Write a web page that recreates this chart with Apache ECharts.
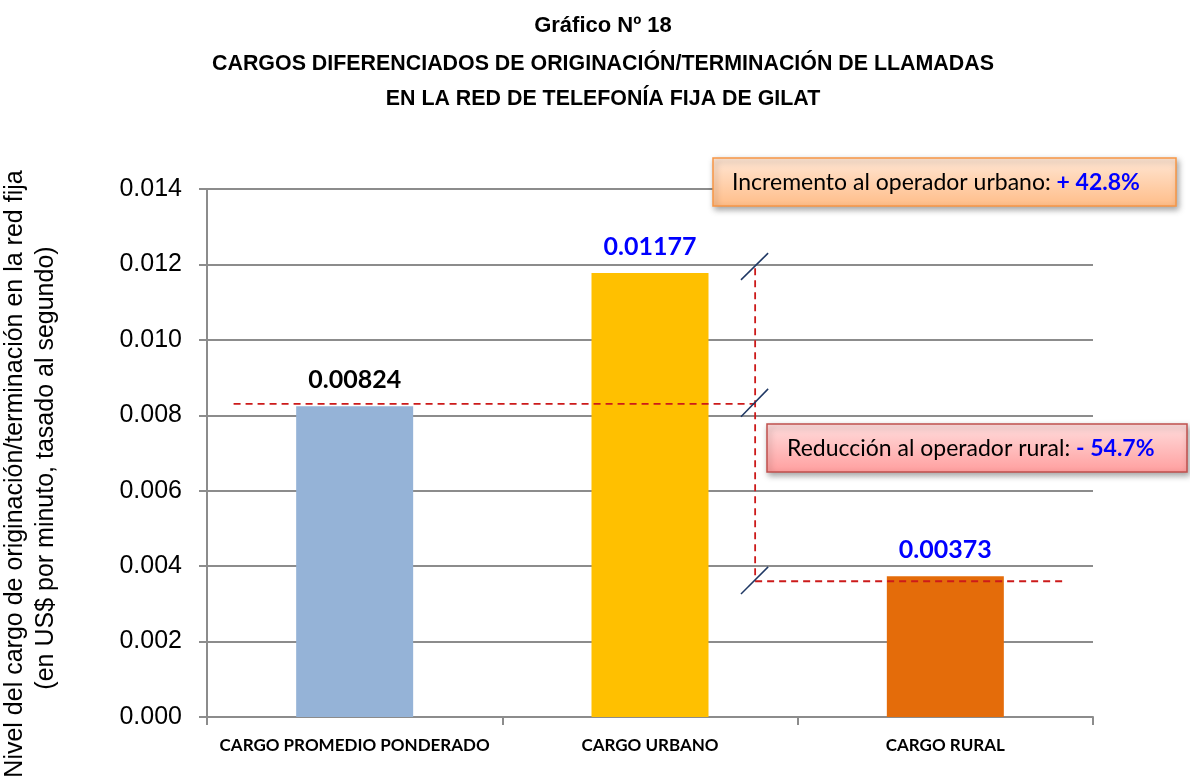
<!DOCTYPE html>
<html>
<head>
<meta charset="utf-8">
<script src="https://cdn.jsdelivr.net/npm/echarts@6/dist/echarts.min.js"></script>
<style>
    html, body { margin: 0; padding: 0; background: #fff; }
    #chart-cargos { width: 1190px; height: 778px; }
</style>
</head>
<body>
<div id="chart-cargos"></div>
<script>
var categories = ['CARGO PROMEDIO PONDERADO', 'CARGO URBANO', 'CARGO RURAL'];
var values = [0.00824, 0.01177, 0.00373];
var valueLabels = ['0.00824', '0.01177', '0.00373'];
var barColors = ['#95B3D7', '#FFC000', '#E46C0A'];
var labelColors = ['#000000', '#0000FF', '#0000FF'];

// y axis: 0 .. 0.014 step 0.002
var yMin = 0, yMax = 0.014, yStep = 0.002;

// reference lines (x in category units 0..3 on a hidden value axis, y in data units)
var avgLine = [[0.09, 0.0083], [1.856, 0.0083]];
var linkLine = [[1.856, 0.0119], [1.856, 0.0036]];
var ruralLine = [[1.856, 0.0036], [2.905, 0.0036]];
var breakMarks = [
    [[1.808, 0.01159], [1.90, 0.0123]],
    [[1.808, 0.00796], [1.90, 0.0087]],
    [[1.808, 0.00326], [1.90, 0.00398]]
];

var annotUp = ['Incremento al operador urbano: ', '+ 42.8%'];
var annotDown = ['Reducción al operador rural: ', '- 54.7%'];

function dashedSeries(data) {
    return {
        type: 'line', xAxisIndex: 1, data: data, symbol: 'none', silent: true, z: 5,
        lineStyle: { color: '#CC1A1A', width: 1.8, type: [7, 5] }
    };
}

function slashSeries(data) {
    return {
        type: 'line', xAxisIndex: 1, data: data, symbol: 'none', silent: true, z: 6,
        lineStyle: { color: '#1F3864', width: 1.5 }
    };
}

function annotText(parts) {
    return {
        text: '{a|' + parts[0] + '}{b|' + parts[1] + '}',
        textVerticalAlign: 'middle',
        rich: {
            a: { fontFamily: 'Lato', fontSize: 23, fill: '#000' },
            b: { fontFamily: 'Lato', fontSize: 23, fontWeight: 'bold', fill: '#0000FF' }
        }
    };
}

var chartDom = document.getElementById('chart-cargos');
var myChart = echarts.init(chartDom);
var option;

var series = [{
    type: 'bar',
    barWidth: 117,
    data: values.map((v, i) => ({
        value: v,
        itemStyle: { color: barColors[i] },
        label: { color: labelColors[i] }
    })),
    label: {
        show: true,
        position: 'top',
        distance: 14,
        fontFamily: 'Lato',
        fontWeight: 'bold',
        fontSize: 25,
        formatter: p => valueLabels[p.dataIndex]
    }
}];
series.push(dashedSeries(avgLine));
series.push(dashedSeries(linkLine));
series.push(dashedSeries(ruralLine));
breakMarks.forEach(m => series.push(slashSeries(m)));

option = {
    animation: false,
    backgroundColor: '#fff',
    title: {
        text: 'Gráfico Nº 18',
        subtext: 'CARGOS DIFERENCIADOS DE ORIGINACIÓN/TERMINACIÓN DE LLAMADAS\nEN LA RED DE TELEFONÍA FIJA DE GILAT',
        left: 598,
        top: 10,
        textAlign: 'center',
        itemGap: 10,
        textStyle: { fontFamily: 'Liberation Sans', fontWeight: 'bold', fontSize: 22, color: '#000' },
        subtextStyle: { fontFamily: 'Liberation Sans', fontWeight: 'bold', fontSize: 21.4, color: '#000', lineHeight: 35 }
    },
    grid: { left: 207, right: 97, top: 189, bottom: 61 },
    xAxis: [{
        type: 'category',
        data: categories,
        axisLine: { lineStyle: { color: '#8C8C8C', width: 2 } },
        axisTick: { show: true, length: 8, lineStyle: { color: '#8C8C8C', width: 2 } },
        axisLabel: {
            interval: 0,
            margin: 20,
            fontFamily: 'Lato',
            fontWeight: 'bold',
            fontSize: 17,
            color: '#000'
        }
    }, {
        type: 'value', min: 0, max: 3, show: false
    }],
    yAxis: {
        type: 'value',
        min: yMin,
        max: yMax,
        interval: yStep,
        axisLine: { show: true, lineStyle: { color: '#8C8C8C', width: 2 } },
        axisTick: { show: true, length: 8, lineStyle: { color: '#8C8C8C', width: 2 } },
        splitLine: { lineStyle: { color: '#8C8C8C', width: 2 } },
        axisLabel: {
            margin: 25,
            fontFamily: 'Liberation Sans',
            fontSize: 25,
            color: '#000',
            formatter: v => v.toFixed(3)
        }
    },
    graphic: [{
        type: 'text',
        x: 15, y: 474, rotation: Math.PI / 2,
        style: {
            text: 'Nivel del cargo de originación/terminación en la red fija',
            font: '25px "Liberation Sans"', fill: '#000',
            textAlign: 'center', textVerticalAlign: 'middle'
        }
    }, {
        type: 'text',
        x: 46, y: 468, rotation: Math.PI / 2,
        style: {
            text: '(en US$ por minuto, tasado al segundo)',
            font: '25px "Liberation Sans"', fill: '#000',
            textAlign: 'center', textVerticalAlign: 'middle'
        }
    }, {
        type: 'rect', x: 713, y: 158, z: 100,
        shape: { width: 463, height: 48 },
        style: {
            fill: new echarts.graphic.LinearGradient(0, 0, 0, 1, [
                { offset: 0, color: '#FFE7D6' }, { offset: 1, color: '#FFBD88' }
            ]),
            stroke: '#F79646', lineWidth: 1.5,
            shadowBlur: 6, shadowOffsetX: 2, shadowOffsetY: 3, shadowColor: 'rgba(0,0,0,0.35)'
        }
    }, {
        type: 'text', x: 732, y: 183, z: 101,
        style: annotText(annotUp)
    }, {
        type: 'rect', x: 767, y: 424, z: 100,
        shape: { width: 420, height: 48 },
        style: {
            fill: new echarts.graphic.LinearGradient(0, 0, 0, 1, [
                { offset: 0, color: '#FFDEDE' }, { offset: 1, color: '#FF9E9E' }
            ]),
            stroke: '#C0504D', lineWidth: 1.5,
            shadowBlur: 6, shadowOffsetX: 2, shadowOffsetY: 3, shadowColor: 'rgba(0,0,0,0.35)'
        }
    }, {
        type: 'text', x: 787, y: 449, z: 101,
        style: annotText(annotDown)
    }],
    series: series
};

myChart.setOption(option);
</script>
</body>
</html>
